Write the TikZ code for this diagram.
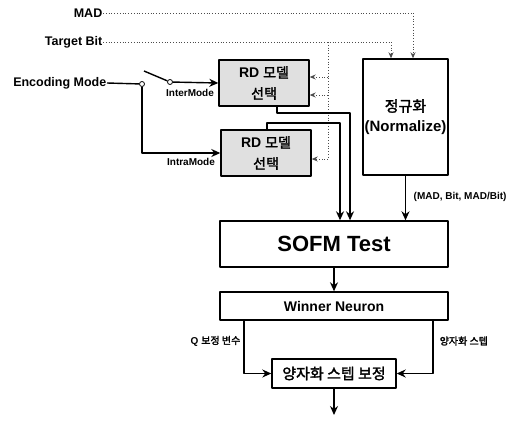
\documentclass[tikz,border=0pt]{standalone}
\usepackage{fontspec}
\setmainfont{Liberation Sans}
\newfontfamily\kr{Noto Sans CJK KR}[AutoFakeBold=2]
\usetikzlibrary{positioning,arrows.meta}
\tikzset{
  rdbox/.style={draw,fill=black!12,minimum width=90pt,minimum height=46pt,align=center,inner sep=0pt,font=\bfseries\fontsize{14}{19}\selectfont},
  wide/.style={draw,minimum width=228pt,align=center,inner sep=0pt},
  lbl/.style={inner sep=0pt,font=\bfseries\fontsize{12.5}{14}\selectfont},
  small/.style={inner sep=0pt,font=\bfseries\fontsize{10}{12}\selectfont},
  feed/.style={dotted,black!70,line width=.8pt,>={Stealth[length=6pt,width=5pt]}},
  pin/.style={circle,draw,fill=white,inner sep=0pt,minimum size=5pt,line width=.8pt}
}
\begin{document}
\begin{tikzpicture}[x=1pt,y=-1pt,>={Stealth[length=9pt,width=8pt]},line join=round,line width=1.4pt]
\useasboundingbox (0,0) rectangle (526,423);
% blocks
\node[rdbox] (rdA) at (264,83) {RD {\kr 모델}\\[2pt]{\kr 선택}};
\node[rdbox] (rdB) at (266,153) {RD {\kr 모델}\\[2pt]{\kr 선택}};
\node[draw,minimum width=85pt,minimum height=116pt,align=center,inner sep=0pt,font=\bfseries\fontsize{15}{20}\selectfont] (norm) at (405.5,117) {{\kr 정규화}\\(Normalize)};
\node[wide,minimum height=46pt,font=\bfseries\fontsize{22}{26}\selectfont] (sofm) at (334,244) {SOFM Test};
\node[wide,minimum height=28pt,font=\bfseries\fontsize{14}{16}\selectfont] (winner) at (334,306) {Winner Neuron};
\node[draw,minimum width=124pt,minimum height=29pt,inner sep=0pt,font=\kr\bfseries\fontsize{15}{18}\selectfont] (qstep) at (334,373.5) {양자화 스텝 보정};
% inputs
\node[lbl,anchor=east] (mad) at (103,13) {MAD};
\node[lbl,anchor=east] (tbit) at (103,42) {Target Bit};
\node[lbl,anchor=east] (enc) at (107,83) {Encoding Mode};
\node[pin] (jn) at (142,84) {};
\node[pin] (sw) at (170,82) {};
\path
(144,71) coordinate (lever)
(413,13) coordinate (m1)
(391,42) coordinate (t1)
(328,42) coordinate (v0)
(328,77) coordinate (v1)
(328,95) coordinate (v2)
(328,159) coordinate (v3)
(277,113) coordinate (a1)
(350,113) coordinate (a2)
(267,123) coordinate (b1)
(340,123) coordinate (b2)
(244,0) coordinate (qx)
(433,0) coordinate (sx)
(334,415) coordinate (out)
;
% mode switch
\draw (enc.east) -- (jn);
\draw (lever) -- (sw);
\draw[->] (sw) -- (rdA.west);
\draw[->] (jn) |- (rdB.west);
\node[small,anchor=north] at (190,89) {InterMode};
\node[small,anchor=north] at (191,158) {IntraMode};
% dotted feeds
\draw[feed] (mad.east) -- (m1);
\draw[feed,->] (m1) -- (m1 |- norm.north);
\draw[feed] (tbit.east) -- (t1);
\draw[feed,->] (t1) -- (t1 |- norm.north);
\draw[feed] (v0) -- (v3);
\draw[feed,->] (v1) -- (v1 -| rdA.east);
\draw[feed,->] (v2) -- (v2 -| rdA.east);
\draw[feed,->] (v3) -- (v3 -| rdB.east);
% into SOFM
\draw[->] (rdA.south -| a1) -- (a1) -- (a2) -- (a2 |- sofm.north);
\draw[->] (rdB.north -| b1) -- (b1) -- (b2) -- (b2 |- sofm.north);
\draw[->] (norm.south) -- (norm.south |- sofm.north);
\node[small,anchor=west] at (413,197) {(MAD, Bit, MAD/Bit)};
% output side
\draw[->] (sofm) -- (winner);
\draw[->] (winner.south -| qx) |- (qstep.west);
\draw[->] (winner.south -| sx) |- (qstep.east);
\node[small,anchor=east] at (241,341) {Q {\kr 보정 변수}};
\node[small,anchor=west,font=\kr\bfseries\fontsize{10}{12}\selectfont] at (439,341) {양자화 스텝};
\draw[->] (qstep) -- (out);
\end{tikzpicture}
\end{document}
